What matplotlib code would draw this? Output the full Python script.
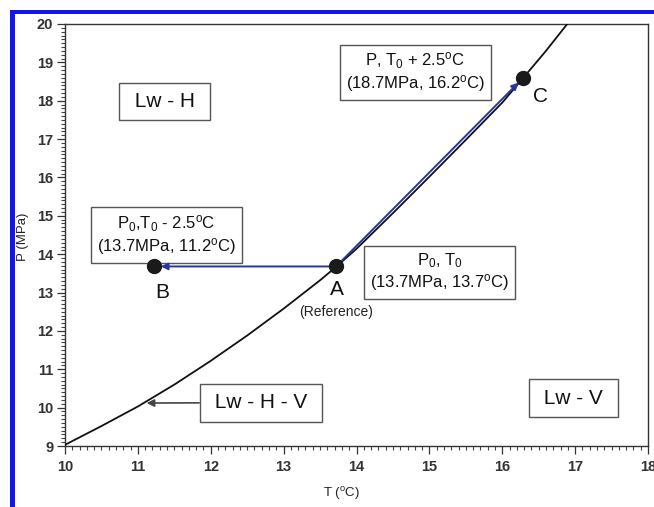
import matplotlib
matplotlib.use("Agg")
import matplotlib.pyplot as plt
from matplotlib.patches import Rectangle
from matplotlib.ticker import MultipleLocator

plt.rcParams['font.family'] = ['Liberation Sans', 'DejaVu Sans']
plt.rcParams['mathtext.fontset'] = 'custom'
plt.rcParams['mathtext.rm'] = 'Liberation Sans'
plt.rcParams['mathtext.it'] = 'Liberation Sans:italic'

# equilibrium curve (T in degC, P in MPa)
curve_T = [10.0, 10.5, 11.0, 11.5, 12.0, 12.5, 13.0, 13.5, 13.72, 14.0, 14.5,
           15.0, 15.5, 16.0, 16.29, 16.6, 16.9]
curve_P = [9.03, 9.52, 10.03, 10.6, 11.22, 11.88, 12.58, 13.32, 13.67, 14.14, 15.07,
           16.02, 16.98, 17.95, 18.6, 19.3, 20.02]

# state points
point_names = ['A', 'B', 'C']
point_T = [13.72, 11.22, 16.29]
point_P = [13.68, 13.68, 18.6]

x_ticks = [10, 11, 12, 13, 14, 15, 16, 17, 18]
y_ticks = [9, 10, 11, 12, 13, 14, 15, 16, 17, 18, 19, 20]

W, H = 654, 507
fig = plt.figure(figsize=(W / 100, H / 100), dpi=100)
fig.patch.set_facecolor('white')

# blue frame of the original figure
blue = '#1414f0'
fig.patches.append(Rectangle((10 / W, 0), 5 / W, (H - 10) / H, transform=fig.transFigure,
                             facecolor=blue, edgecolor='none', zorder=0))
fig.patches.append(Rectangle((10 / W, (H - 14) / H), (W - 10) / W, 4 / H,
                             transform=fig.transFigure, facecolor=blue, edgecolor='none', zorder=0))

ax = fig.add_axes([65 / W, (H - 446) / H, (648 - 65) / W, (446 - 24) / H])
ax.set_xlim(x_ticks[0], x_ticks[-1])
ax.set_ylim(y_ticks[0], y_ticks[-1])
ax.set_xticks(x_ticks)
ax.set_yticks(y_ticks)
ax.xaxis.set_minor_locator(MultipleLocator(0.1))
ax.yaxis.set_minor_locator(MultipleLocator(0.1))
ax.tick_params(which='major', direction='out', length=5.5, width=0.9, color='#333333',
               labelsize=10.5, labelcolor='#333333', top=False, right=False)
ax.tick_params(axis='y', which='major', pad=3)
ax.tick_params(axis='x', which='major', pad=4.5)
ax.tick_params(which='minor', direction='out', length=3, width=0.8, color='#444444',
               top=False, right=False)
for lab in ax.get_xticklabels() + ax.get_yticklabels():
    lab.set_fontweight('bold')
for s in ax.spines.values():
    s.set_linewidth(1.0)
    s.set_color('#333333')

ax.plot(curve_T, curve_P, color='#111111', lw=1.3, zorder=3)

# blue arrows from A to B and from A to C
arrow_col = '#2b35a0'
ax.annotate('', xy=(point_T[1], point_P[1]), xytext=(point_T[0], point_P[0]),
            arrowprops=dict(arrowstyle='-|>', color=arrow_col, lw=1.4, mutation_scale=10,
                            shrinkA=0, shrinkB=5), zorder=4)
ax.annotate('', xy=(point_T[2], point_P[2]), xytext=(point_T[0], point_P[0]),
            arrowprops=dict(arrowstyle='-|>', color=arrow_col, lw=1.4, mutation_scale=10,
                            shrinkA=0, shrinkB=5), zorder=4)

ax.plot(point_T, point_P, 'o', ms=10, color='#1a1a1a', zorder=5)

# point letters
ax.text(13.73, 13.07, 'A', fontsize=15, ha='center', va='center', color='#111111')
ax.text(11.34, 12.99, 'B', fontsize=15, ha='center', va='center', color='#111111')
ax.text(16.53, 18.12, 'C', fontsize=15, ha='center', va='center', color='#111111')
ax.text(13.72, 12.49, '(Reference)', fontsize=10, ha='center', va='center', color='#222222')

box = dict(boxstyle='square,pad=0.45', facecolor='white', edgecolor='#555555', lw=1.0)

ax.text(11.365, 17.98, ' Lw - H ', fontsize=15, ha='center', va='center',
        color='#111111', bbox=box)
ax.text(16.98, 10.25, ' Lw - V ', fontsize=15, ha='center', va='center',
        color='#111111', bbox=box)
ax.annotate(' Lw - H - V ', xy=(11.12, 10.12), xytext=(12.69, 10.13), fontsize=15,
            ha='center', va='center', color='#111111', bbox=box,
            arrowprops=dict(arrowstyle='-|>', color='#444444', lw=1.2, mutation_scale=11,
                            shrinkA=0, shrinkB=0))

box2 = dict(boxstyle='square,pad=0.35', facecolor='white', edgecolor='#555555', lw=1.0)
ax.text(11.39, 14.50, 'P$_0$,T$_0$ - 2.5$^\\mathrm{o}$C\n(13.7MPa, 11.2$^\\mathrm{o}$C)',
        fontsize=12, ha='center', va='center', multialignment='center',
        color='#111111', bbox=box2, linespacing=1.15)
ax.text(14.81, 18.74, 'P, T$_0$ + 2.5$^\\mathrm{o}$C\n(18.7MPa, 16.2$^\\mathrm{o}$C)',
        fontsize=12, ha='center', va='center', multialignment='center',
        color='#111111', bbox=box2, linespacing=1.15)
ax.text(15.14, 13.54, 'P$_0$, T$_0$\n(13.7MPa, 13.7$^\\mathrm{o}$C)',
        fontsize=12, ha='center', va='center', multialignment='center',
        color='#111111', bbox=box2, linespacing=1.15)

fig.text(23 / W, 1 - 237 / H, 'P (MPa)', rotation=90, fontsize=9.5, ha='center',
         va='center', color='#222222')
fig.text(341 / W, 1 - 493 / H, 'T ($^\\mathrm{o}$C)', fontsize=9.5, ha='center',
         va='center', color='#222222')

fig.savefig('out.png', dpi=100, facecolor='white')
